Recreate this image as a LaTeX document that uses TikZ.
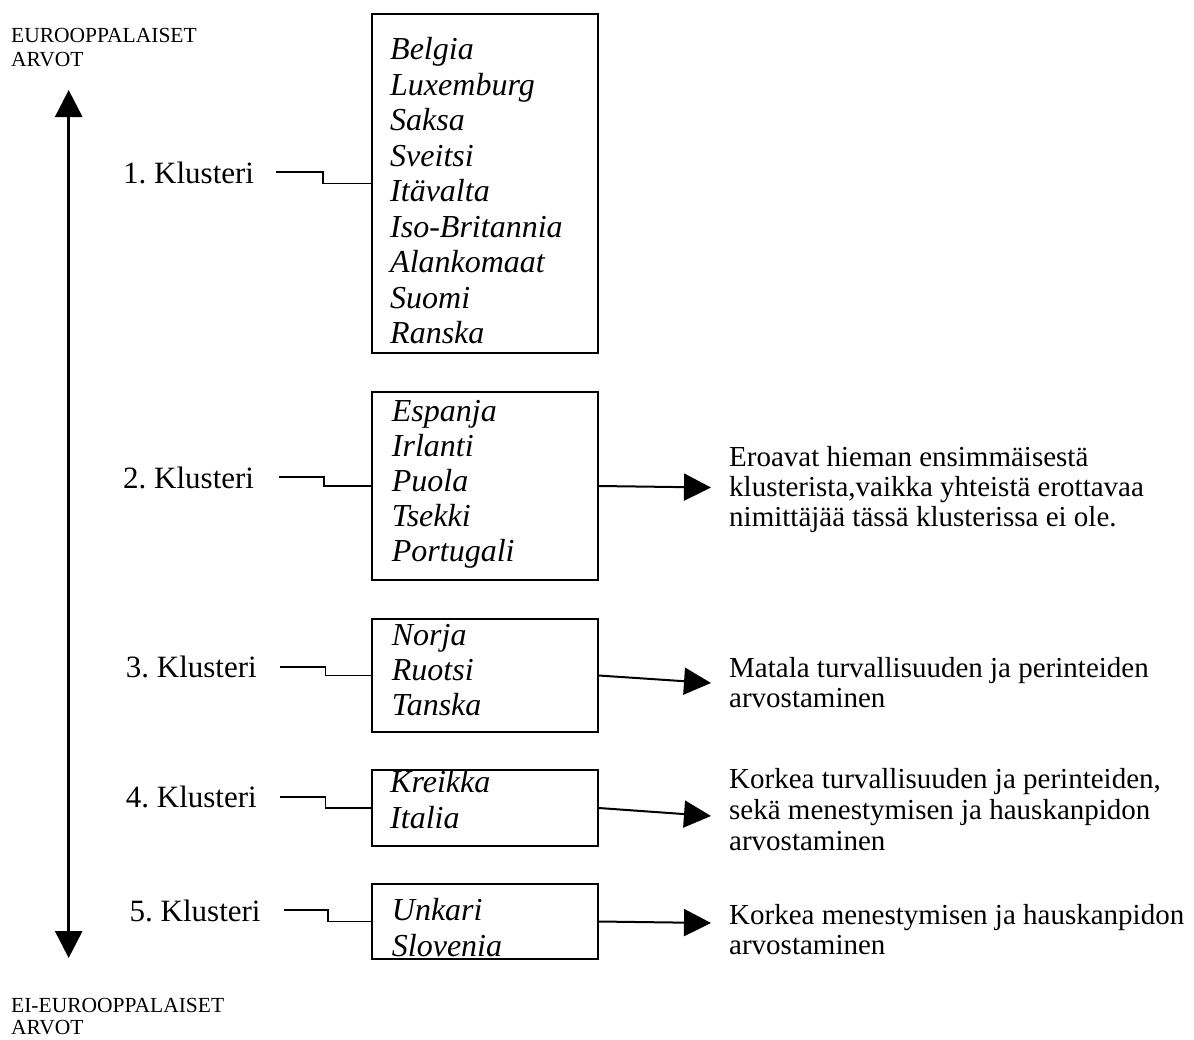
\documentclass[tikz,border=0pt]{standalone}
\usepackage{fontspec}
\setmainfont{Liberation Serif}
\usetikzlibrary{arrows.meta}
\frenchspacing
\begin{document}
\begin{tikzpicture}[x=1pt,y=-1pt,
  box/.style={draw, line width=1.8pt, minimum width=226pt, inner sep=0pt},
  cty/.style={anchor=base west, inner sep=0pt, font=\fontsize{32}{35}\selectfont\itshape},
  lab/.style={anchor=base west, inner sep=0pt, font=\fontsize{31}{35}\selectfont},
  note/.style={anchor=base west, inner sep=0pt, font=\fontsize{29}{28}\selectfont},
  corner/.style={anchor=base west, inner sep=0pt, font=\fontsize{21.5}{24}\selectfont},
  conn/.style={line width=1.5pt},
  rarr/.style={line width=2pt, -{Triangle[length=27pt,width=27pt]}},
  mainarr/.style={line width=3pt, {Triangle[length=27pt,width=27pt]}-{Triangle[length=27pt,width=27pt]}}
]
\useasboundingbox (0,0) rectangle (1194,1039);

% corner texts
\node[corner] (eu1) at (11,42) {EUROOPPALAISET};
\node[corner] (eu2) at (11,66) {ARVOT};
\node[corner] (ne1) at (11,1012) {EI-EUROOPPALAISET};
\node[corner] (ne2) at (11,1034) {ARVOT};

% main vertical arrow
\coordinate (top) at (68.7,90);
\coordinate (bot) at (68.7,958);
\draw[mainarr] (top) -- (bot);

% boxes
\node[box, minimum height=339pt] (b1) at (485,183.5) {};
\node[box, minimum height=188pt] (b2) at (485,486) {};
\node[box, minimum height=113pt] (b3) at (485,675.5) {};
\node[box, minimum height=76pt]  (b4) at (485,808) {};
\node[box, minimum height=75pt]  (b5) at (485,921.5) {};

% countries
\foreach \t [count=\i from 0] in {Belgia,Luxemburg,Saksa,Sveitsi,Itävalta,Iso-Britannia,Alankomaat,Suomi,Ranska}
  \node[cty] (c1-\i) at (390,{59.5+35.5*\i}) {\t};
\foreach \t [count=\i from 0] in {Espanja,Irlanti,Puola,Tsekki,Portugali}
  \node[cty] (c2-\i) at (391.7,{421.7+35*\i}) {\t};
\foreach \t [count=\i from 0] in {Norja,Ruotsi,Tanska}
  \node[cty] (c3-\i) at (391.7,{645+35*\i}) {\t};
\node[cty] (c4-0) at (390,792.7) {Kreikka};
\node[cty] (c4-1) at (390,828) {Italia};
\node[cty] (c5-0) at (391.7,920.7) {Unkari};
\node[cty] (c5-1) at (391.7,956) {Slovenia};

% cluster labels
\node[lab] (l1) at (123,183) {1. Klusteri};
\node[lab] (l2) at (123,488) {2. Klusteri};
\node[lab] (l3) at (125.7,677.5) {3. Klusteri};
\node[lab] (l4) at (125.7,807.5) {4. Klusteri};
\node[lab] (l5) at (129.5,921) {5. Klusteri};

% connectors label -> box
\coordinate (s1) at (276,172);
\coordinate (s2) at (279,477);
\coordinate (s3) at (280,667);
\coordinate (s4) at (280,797);
\coordinate (s5) at (284,910);
\draw[conn] (s1) -- (323,172) |- (b1.west);
\draw[conn] (s2) -- (324,477) |- (b2.west);
\draw[conn] (s3) -- (325.7,667) |- (b3.west);
\draw[conn] (s4) -- (325.7,797) |- (b4.west);
\draw[conn] (s5) -- (328,910) |- (b5.west);

% right arrows
\coordinate (e2) at (711,487.5);
\coordinate (e3) at (711,683);
\coordinate (e4) at (711,816);
\coordinate (e5) at (711,923);
\draw[rarr] (b2.east) -- (e2);
\draw[rarr] (b3.east) -- (e3);
\draw[rarr] (b4.east) -- (e4);
\draw[rarr] (b5.east) -- (e5);

% notes
\node[note] (n2a) at (729,466) {Eroavat hieman ensimmäisestä};
\node[note] (n2b) at (729,496) {klusterista,vaikka yhteistä erottavaa};
\node[note] (n2c) at (729,526) {nimittäjää tässä klusterissa ei ole.};
\node[note] (n3a) at (729,677) {Matala turvallisuuden ja perinteiden};
\node[note] (n3b) at (729,707) {arvostaminen};
\node[note] (n4a) at (729,788) {Korkea turvallisuuden ja perinteiden,};
\node[note] (n4b) at (729,819) {sekä menestymisen ja hauskanpidon};
\node[note] (n4c) at (729,850) {arvostaminen};
\node[note] (n5a) at (729,924) {Korkea menestymisen ja hauskanpidon};
\node[note] (n5b) at (729,954) {arvostaminen};
\end{tikzpicture}
\end{document}
